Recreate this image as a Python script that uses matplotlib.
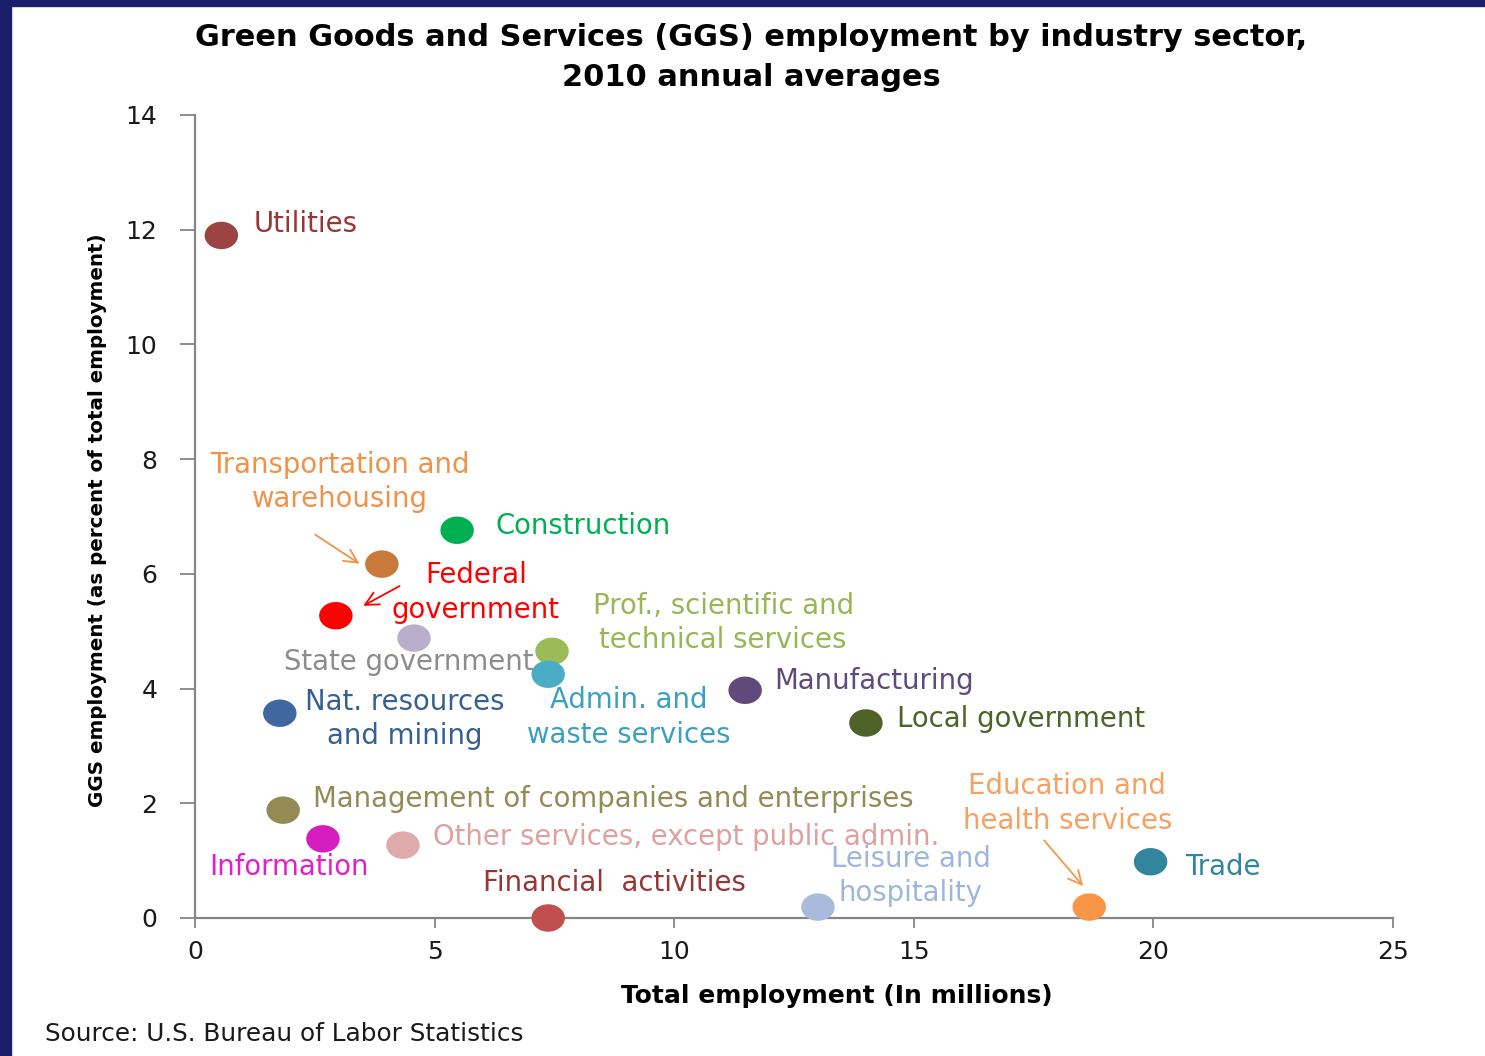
import numpy as np
import matplotlib
matplotlib.use('Agg')
import matplotlib.pyplot as plt
from matplotlib.path import Path
from matplotlib.patches import Rectangle

# Data: total employment (millions) and GGS share (% of total)
sectors = ['Utilities', 'Transportation and\nwarehousing', 'Construction',
           'Federal\ngovernment', 'State government',
           'Prof., scientific and\ntechnical services', 'Admin. and\nwaste services',
           'Manufacturing', 'Local government', 'Nat. resources\nand mining',
           'Management of companies and enterprises',
           'Information', 'Other services, except public admin.',
           'Financial  activities', 'Leisure and\nhospitality',
           'Education and\nhealth services', 'Trade']
total_emp = [0.55, 3.9, 5.47, 2.94, 4.57, 7.45, 7.37, 11.48, 14.0, 1.77,
             1.84, 2.67, 4.34, 7.37, 13.0, 18.66, 19.94]
ggs_pct = [11.9, 6.17, 6.76, 5.27, 4.88, 4.65, 4.25, 3.97, 3.4, 3.57,
           1.88, 1.38, 1.27, 0.0, 0.19, 0.19, 0.98]

dot_colors = ['#9c4443', '#c97a3a', '#00b050', '#ff0000', '#b9afcc',
              '#9bbb59', '#4bacc6', '#604a7b', '#4f6228', '#3f68a0',
              '#948a54', '#d61ec0', '#dfaaab', '#c0504d', '#a9bbdb',
              '#f79646', '#31859c']
text_colors = ['#953735', '#f0924a', '#00b050', '#ff0000', '#8c8c8c',
               '#9bb455', '#3aa0bf', '#604a7b', '#4f6228', '#366092',
               '#948a54', '#e020c8', '#e0a0a0', '#953735', '#9cb6dc',
               '#f8a060', '#31859c']

# label anchor (data coords) and alignment
label_pos = [(1.23, 12.10, 'left'), (3.03, 7.60, 'center'), (6.28, 6.83, 'left'),
             (5.86, 5.67, 'center'), (1.86, 4.46, 'left'), (11.02, 5.14, 'center'),
             (9.06, 3.50, 'center'), (12.08, 4.13, 'left'), (14.65, 3.47, 'left'),
             (4.38, 3.47, 'center'), (2.46, 2.07, 'left'), (0.29, 0.89, 'left'),
             (4.97, 1.41, 'left'), (6.01, 0.61, 'left'), (14.94, 0.73, 'center'),
             (18.20, 2.00, 'center'), (20.66, 0.89, 'left')]

arrows = [((2.46, 6.71), (3.48, 6.15), '#f0924a'),
          ((4.32, 5.81), (3.46, 5.42), '#ff0000'),
          ((17.68, 1.39), (18.57, 0.52), '#f79646')]

x_ticks = [0, 5, 10, 15, 20, 25]
y_ticks = [0, 2, 4, 6, 8, 10, 12, 14]

# ellipse marker, a bit wider than tall like the original
t = np.linspace(0, 2 * np.pi, 60)
ellipse = Path(np.column_stack([np.cos(t) * 1.0, np.sin(t) * 0.82]), closed=True)

fig = plt.figure(figsize=(14.85, 10.56), dpi=100)
fig.patch.set_facecolor('white')
ax = fig.add_axes([0.1313, 0.1307, 0.8068, 0.7604])

ax.scatter(total_emp, ggs_pct, s=580, marker=ellipse, c=dot_colors,
           clip_on=False, zorder=3, linewidths=0)

for name, (lx, ly, ha), col in zip(sectors, label_pos, text_colors):
    ax.text(lx, ly, name, ha=ha, va='center', color=col, fontsize=19.8,
            family='DejaVu Sans', linespacing=1.3)

for start, end, col in arrows:
    ax.annotate('', xy=end, xytext=start,
                arrowprops=dict(arrowstyle='->', color=col, lw=1.3,
                                mutation_scale=24))

ax.set_xlim(0, 25)
ax.set_ylim(0, 14)
ax.set_xticks(x_ticks)
ax.set_yticks(y_ticks)
ax.tick_params(axis='both', colors='#868686', labelcolor='#1a1a1a',
               labelsize=18, width=1.3, direction='out')
ax.tick_params(axis='x', pad=9, length=7)
ax.tick_params(axis='y', pad=16, length=11)
for side in ['top', 'right']:
    ax.spines[side].set_visible(False)
for side in ['left', 'bottom']:
    ax.spines[side].set_color('#868686')
    ax.spines[side].set_linewidth(1.6)

fig.text(837 / 1485, 1 - 996 / 1056, 'Total employment (In millions)', ha='center',
         va='center', fontsize=18, fontweight='bold', family='DejaVu Sans')
fig.text(98 / 1485, 1 - 520 / 1056, 'GGS employment (as percent of total employment)',
         ha='center', va='center', rotation=90, fontsize=14.3, fontweight='bold',
         family='DejaVu Sans')

fig.text(751 / 1485, 1 - 38 / 1056, 'Green Goods and Services (GGS) employment by industry sector,',
         ha='center', va='center', fontsize=21.9, fontweight='bold', family='DejaVu Sans')
fig.text(751 / 1485, 1 - 78 / 1056, '2010 annual averages', ha='center', va='center',
         fontsize=21.9, fontweight='bold', family='DejaVu Sans')
fig.text(45 / 1485, 1 - 1034 / 1056, 'Source: U.S. Bureau of Labor Statistics', ha='left',
         va='center', fontsize=17.8, family='DejaVu Sans', color='#1a1a1a')

# navy frame on the left and top edges
fig.patches.append(Rectangle((0, 0), 11 / 1485, 1, transform=fig.transFigure,
                             color='#1b1f6a', zorder=10))
fig.patches.append(Rectangle((0, 1 - 6 / 1056), 1, 6 / 1056, transform=fig.transFigure,
                             color='#1b1f6a', zorder=10))

fig.savefig('out.png', dpi=100)
plt.close(fig)
